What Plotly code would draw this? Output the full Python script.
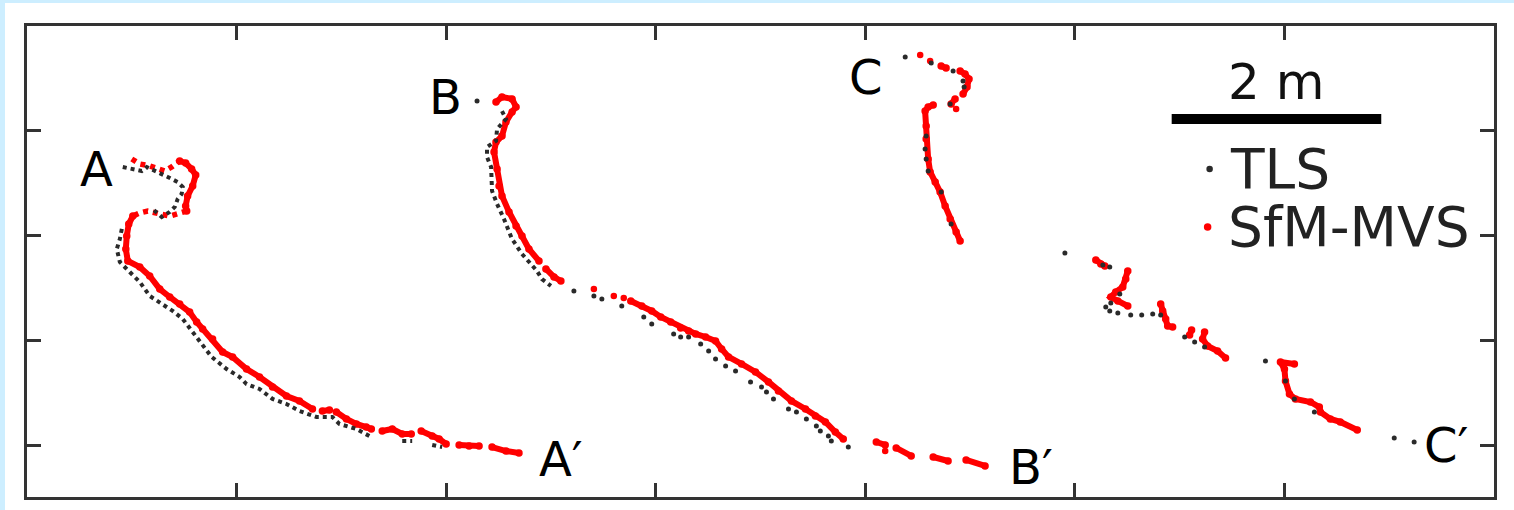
import plotly.graph_objects as go

# ---------------- data (metres; x along section, y height) ----------------
# Profile A
A_sfm_x = [1.457, 1.514, 1.571, 1.610, 1.581, 1.533, 1.514, 1.524, None,
           1.010, 0.971, 0.952, 0.943, 0.962, 1.076, 1.171, 1.267, 1.362, 1.457, 1.552, 1.619, 1.676,
           1.771, 1.867, 1.962, 2.095, 2.219, 2.343, 2.476, 2.600, 2.724, None,
           2.819, 2.886, None,
           2.952, 3.048, 3.143, 3.238, 3.286, None,
           3.390, 3.486, 3.581, 3.667, None,
           3.762, 3.867, 3.933, 4.000, None,
           4.124, 4.219, 4.314, None,
           4.438, 4.571, 4.695]
A_sfm_y = [2.714, 2.695, 2.638, 2.581, 2.476, 2.381, 2.286, 2.238, None,
           2.190, 2.114, 2.000, 1.876, 1.762, 1.705, 1.619, 1.495, 1.419, 1.352, 1.276, 1.181, 1.114,
           1.019, 0.895, 0.848, 0.733, 0.657, 0.562, 0.476, 0.429, 0.352, None,
           0.333, 0.343, None,
           0.324, 0.257, 0.210, 0.181, 0.162, None,
           0.143, 0.162, 0.114, 0.114, None,
           0.143, 0.095, 0.067, 0.019, None,
           0.010, 0.000, 0.000, None,
           -0.010, -0.048, -0.067]
A_sfm_sparse_x = [1.000, 1.076, 1.171, 1.238, 1.314, 1.381, 1.457, None,
                  1.524, 1.362, 1.267, 1.152, 1.076, 1.010]
A_sfm_sparse_y = [2.733, 2.686, 2.667, 2.638, 2.619, 2.657, 2.714, None,
                  2.238, 2.190, 2.210, 2.238, 2.219, 2.190]
A_tls_x = [0.914, 1.010, 1.095, 1.143, 1.248, 1.343, 1.438, 1.486, 1.476, 1.438, 1.410, 1.362, 1.286, 1.200, None,
           0.905, 0.886, 0.857, 0.886, 0.981, 1.076, 1.171, 1.267, 1.390, 1.486, 1.581, 1.648, 1.762,
           1.905, 2.029, 2.095, 2.219, 2.343, 2.476, 2.600, 2.762, 2.914, 2.981, 3.143, 3.267, None,
           3.581, 3.676, None, 3.867, 3.962]
A_tls_y = [2.657, 2.638, 2.619, 2.657, 2.610, 2.562, 2.514, 2.467, 2.400, 2.352, 2.276, 2.229, 2.181, 2.257, None,
           2.067, 1.971, 1.876, 1.752, 1.657, 1.562, 1.429, 1.371, 1.286, 1.210, 1.086, 0.990, 0.848,
           0.733, 0.657, 0.590, 0.543, 0.448, 0.400, 0.333, 0.276, 0.276, 0.210, 0.162, 0.095, None,
           0.048, 0.048, None, 0.010, -0.010]

# Profile B
B_sfm_x = [4.476, 4.533, 4.629, 4.667, 4.629, 4.571, 4.533, 4.476, 4.457, 4.486, 4.505, 4.533, 4.600,
           4.667, 4.724, 4.790, 4.886, None,
           4.952, 5.029, 5.095, None,
           5.762, 5.867, 5.962, 6.048, 6.143, 6.238, 6.314, 6.381, 6.476, 6.571, 6.629, 6.695, 6.819,
           6.952, 7.076, 7.171, 7.295, 7.429, 7.524, 7.619, 7.714, 7.790, None,
           8.105, 8.190, None, 8.295, 8.438, None, 8.648, 8.790, None, 8.962, 9.143]
B_sfm_y = [3.276, 3.324, 3.305, 3.229, 3.181, 3.086, 2.952, 2.895, 2.800, 2.638, 2.476, 2.381, 2.229,
           2.095, 2.000, 1.876, 1.762, None,
           1.686, 1.610, 1.571, None,
           1.381, 1.333, 1.286, 1.229, 1.181, 1.124, 1.095, 1.067, 1.038, 1.000, 0.924, 0.848, 0.781,
           0.705, 0.610, 0.524, 0.429, 0.352, 0.286, 0.229, 0.133, 0.067, None,
           0.038, 0.010, None, -0.019, -0.095, None, -0.105, -0.143, None, -0.133, -0.190]
B_tls_x = [4.533, 4.571, 4.486, 4.476, 4.390, 4.390, 4.429, 4.438, 4.438, 4.486, 4.552, 4.629, 4.724,
           4.867, 4.914, 5.000]
B_tls_y = [3.190, 3.114, 3.019, 2.905, 2.848, 2.752, 2.657, 2.524, 2.429, 2.305, 2.162, 1.971, 1.829,
           1.667, 1.590, 1.524]
B_tls_pts_x = [4.295, 5.219, 5.410, 5.486, 5.676, 5.886, 5.962, 6.171, 6.238, 6.314, 6.429, 6.505, 6.571,
               6.667, 6.762, 6.905, 7.010, 7.057, 7.124, 7.267, 7.343, 7.438, 7.533, 7.571, 7.648, 7.676, 7.838]
B_tls_pts_y = [3.286, 1.476, 1.429, 1.400, 1.333, 1.229, 1.162, 1.067, 1.038, 1.038, 0.971, 0.905, 0.829,
               0.762, 0.714, 0.610, 0.562, 0.514, 0.448, 0.352, 0.324, 0.257, 0.190, 0.143, 0.095, 0.048, -0.010]

# Profile C
C_sfm_x = [8.724, 8.771, None, 8.905, 8.952, 8.990, 8.971, 8.933, None, 8.857, 8.819, None,
           8.648, 8.600, 8.571, 8.581, 8.581, 8.600, 8.619, 8.667, 8.714, 8.762, 8.810, 8.867, 8.905, None,
           10.200, 10.248, 10.286, None,
           10.505, 10.486, 10.457, 10.390, 10.343, 10.410, 10.505, None,
           10.819, 10.838, 10.867, 10.886, 10.933, None,
           11.114, 11.095, None,
           11.238, 11.219, 11.267, 11.362, 11.438, None,
           12.095, 11.962, 12.000, 12.010, 12.048, 12.105, 12.248, 12.333, 12.343, 12.438, 12.533, 12.695]
C_sfm_y = [3.619, 3.600, None, 3.571, 3.543, 3.495, 3.419, 3.352, None, 3.305, 3.257, None,
           3.248, 3.229, 3.190, 3.048, 2.924, 2.733, 2.610, 2.514, 2.419, 2.286, 2.162, 2.038, 1.952, None,
           1.771, 1.733, 1.714, None,
           1.667, 1.590, 1.514, 1.467, 1.419, 1.381, 1.333, None,
           1.352, 1.286, 1.210, 1.143, 1.133, None,
           1.105, 1.057, None,
           1.086, 1.019, 0.952, 0.905, 0.838, None,
           0.781, 0.800, 0.733, 0.619, 0.495, 0.448, 0.419, 0.371, 0.324, 0.257, 0.229, 0.152]
C_tls_x = [8.381, 8.629, 8.838, 8.933, 8.943, 8.810, 8.581, 8.571, 8.581, 8.600, 8.724, 8.819, 9.905,
           10.267, 10.333, 10.429, 10.343, 10.295, 10.333, 10.410, 10.533, 10.638, 10.743, 10.819,
           11.048, 11.143, 11.238, 11.819, 12.010, 12.095, 12.286, 13.048, 13.238]
C_tls_y = [3.705, 3.648, 3.571, 3.476, 3.419, 3.257, 2.952, 2.829, 2.733, 2.619, 2.419, 2.114, 1.838,
           1.724, 1.705, 1.448, 1.362, 1.324, 1.286, 1.267, 1.248, 1.248, 1.257, 1.248,
           1.038, 0.990, 0.943, 0.810, 0.619, 0.448, 0.324, 0.076, 0.038]

# isolated SfM points
sfm_pts_x = [5.410, 5.600, 5.695, 8.190, 8.524, 8.619, 8.867]
sfm_pts_y = [1.495, 1.429, 1.410, -0.048, 3.724, 3.667, 3.210]

# section labels
label_text = ["A", "B", "C", "A\u2032", "B\u2032", "C\u2032"]
label_x = [0.667, 3.990, 8.010, 5.095, 9.581, 13.546]
label_y = [2.638, 3.324, 3.514, -0.124, -0.200, 0.010]

# legend / scale bar
legend_names = ["TLS", "SfM-MVS"]
legend_x = [11.286, 11.267]
legend_y = [2.638, 2.086]
scale_length_m = 2.0
scale_x0 = 10.924
scale_y = 3.114

x_ticks = [2, 4, 6, 8, 10, 12]
y_ticks = [0, 1, 2, 3]

# ---------------- figure ----------------
RED = "#ff0000"
TLS = "#2a2a2a"
FONT = "DejaVu Sans"

fig = go.Figure()

for xs, ys in [(A_sfm_x, A_sfm_y), (B_sfm_x, B_sfm_y), (C_sfm_x, C_sfm_y)]:
    fig.add_trace(go.Scatter(x=xs, y=ys, mode="lines+markers", connectgaps=False,
                             line=dict(color=RED, width=6),
                             marker=dict(color=RED, size=7.5), hoverinfo="skip"))
fig.add_trace(go.Scatter(x=A_sfm_sparse_x, y=A_sfm_sparse_y, mode="lines", connectgaps=False,
                         line=dict(color=RED, width=5.5, dash="5px,5px"), hoverinfo="skip"))
fig.add_trace(go.Scatter(x=sfm_pts_x, y=sfm_pts_y, mode="markers",
                         marker=dict(color=RED, size=6.5), hoverinfo="skip"))

for xs, ys in [(A_tls_x, A_tls_y), (B_tls_x, B_tls_y)]:
    fig.add_trace(go.Scatter(x=xs, y=ys, mode="lines", connectgaps=False,
                             line=dict(color=TLS, width=4, dash="4px,4px"), hoverinfo="skip"))
for xs, ys in [(B_tls_pts_x, B_tls_pts_y), (C_tls_x, C_tls_y)]:
    fig.add_trace(go.Scatter(x=xs, y=ys, mode="markers",
                             marker=dict(color=TLS, size=5), hoverinfo="skip"))

# legend glyphs
fig.add_trace(go.Scatter(x=[legend_x[0]], y=[legend_y[0]], mode="markers",
                         marker=dict(color=TLS, size=6.5), hoverinfo="skip"))
fig.add_trace(go.Scatter(x=[legend_x[1]], y=[legend_y[1]], mode="markers",
                         marker=dict(color=RED, size=7.5), hoverinfo="skip"))

annotations = []
for t, x, y in zip(label_text, label_x, label_y):
    annotations.append(dict(x=x, y=y, xref="x", yref="y", text=t, showarrow=False,
                            xanchor="center", yanchor="middle",
                            font=dict(family=FONT, size=48, color="#000000")))
for t, x, y in zip(legend_names, legend_x, legend_y):
    annotations.append(dict(x=x + 0.18, y=y, xref="x", yref="y", text=t, showarrow=False,
                            xanchor="left", yanchor="middle",
                            font=dict(family=FONT, size=55, color="#222222")))
annotations.append(dict(x=scale_x0 + scale_length_m / 2, y=scale_y + 0.35, xref="x", yref="y",
                        text="%g m" % scale_length_m, showarrow=False,
                        xanchor="center", yanchor="middle",
                        font=dict(family=FONT, size=50, color="#111111")))

shapes = [
    dict(type="rect", xref="paper", yref="paper", x0=-0.015, x1=1.05, y0=-0.1, y1=1.049,
         fillcolor="white", line=dict(width=0), layer="below"),
    dict(type="line", xref="x", yref="y", x0=scale_x0, x1=scale_x0 + scale_length_m,
         y0=scale_y, y1=scale_y, line=dict(color="#000000", width=10)),
]

axis_common = dict(showline=True, mirror="ticks", linewidth=3, linecolor="#333333",
                   ticks="inside", ticklen=14, tickwidth=2.5, tickcolor="#333333",
                   showticklabels=False, showgrid=False, zeroline=False)

fig.update_layout(
    width=1514, height=510,
    margin=dict(l=27, r=20, t=26, b=13),
    paper_bgcolor="#cdeeff",
    plot_bgcolor="white",
    showlegend=False,
    xaxis=dict(range=[0, 14], tickvals=x_ticks, **axis_common),
    yaxis=dict(range=[-0.486, 4.0], tickvals=y_ticks, **axis_common),
    annotations=annotations,
    shapes=shapes,
)

fig.write_html("out.html", config={"displayModeBar": False})
